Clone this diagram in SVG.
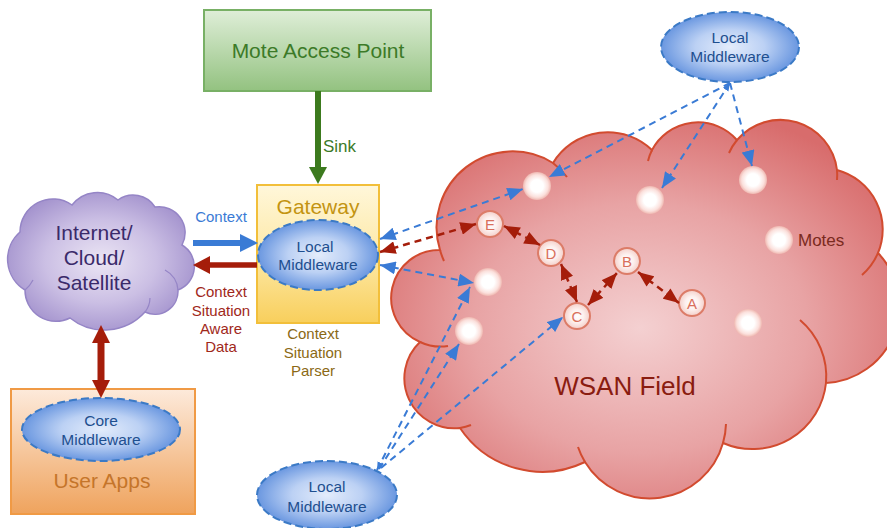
<svg xmlns="http://www.w3.org/2000/svg" width="887" height="528" viewBox="0 0 887 528">
<defs>
<style>
text{font-family:"Liberation Sans",Arial,sans-serif}
.mid{text-anchor:middle}
.lm{fill:url(#ellG);stroke:#3b7ac6;stroke-width:2;stroke-dasharray:8 4}
.lmt{font-size:15.5px;fill:#1e4f8f}
.bd{fill:none;stroke:#3a7bd5;stroke-width:2;stroke-dasharray:7 5}
.rd{fill:none;stroke:#a51d0a;stroke-width:2.5;stroke-dasharray:7 5}
.mote{fill:url(#moteG)}
.nd{fill:url(#ndG);stroke:#dc7c68;stroke-width:2}
.ndt{font-size:15px;fill:#d9705c;text-anchor:middle}
.inner{fill:none;stroke:#d24b2f;stroke-width:2}
.pinner{fill:none;stroke:#9585c6;stroke-width:1.2}
</style>
<radialGradient id="ellG" cx="0.5" cy="0.5" r="0.5"><stop offset="0" stop-color="#e3ecfb"/><stop offset="0.5" stop-color="#bcd1f4"/><stop offset="1" stop-color="#6a97e0"/></radialGradient>
<radialGradient id="moteG" cx="0.5" cy="0.5" r="0.5"><stop offset="0" stop-color="#ffffff"/><stop offset="0.45" stop-color="#ffffff"/><stop offset="0.8" stop-color="#fbe0dc"/><stop offset="1" stop-color="#efb8b1"/></radialGradient>
<radialGradient id="ndG" cx="0.5" cy="0.5" r="0.5"><stop offset="0" stop-color="#ffffff"/><stop offset="0.5" stop-color="#fdf1ef"/><stop offset="1" stop-color="#f4cfc9"/></radialGradient>
<radialGradient id="wsanG" cx="0.49" cy="0.55" r="0.6"><stop offset="0" stop-color="#f4d0d1"/><stop offset="0.55" stop-color="#e8a3a4"/><stop offset="1" stop-color="#d86c6c"/></radialGradient>
<radialGradient id="purpG" cx="0.5" cy="0.5" r="0.6"><stop offset="0" stop-color="#ebe5f4"/><stop offset="0.5" stop-color="#cbbfe4"/><stop offset="1" stop-color="#9a88c8"/></radialGradient>
<linearGradient id="greenG" x1="0" y1="0" x2="0" y2="1"><stop offset="0" stop-color="#dfeed8"/><stop offset="1" stop-color="#93c280"/></linearGradient>
<linearGradient id="goldG" x1="0" y1="0" x2="0" y2="1"><stop offset="0" stop-color="#fff7da"/><stop offset="0.5" stop-color="#fde9a8"/><stop offset="1" stop-color="#f8cf5c"/></linearGradient>
<linearGradient id="orgG" x1="0" y1="0" x2="0" y2="1"><stop offset="0" stop-color="#fdeadb"/><stop offset="1" stop-color="#efa35d"/></linearGradient>
<marker id="hB" viewBox="0 0 12 10" refX="12" refY="5" markerWidth="16" markerHeight="13" markerUnits="userSpaceOnUse" orient="auto-start-reverse"><path d="M0,0 L12,5 L0,10 z" fill="#3a7bd5"/></marker>
<marker id="hBs" viewBox="0 0 12 10" refX="12" refY="5" markerWidth="8" markerHeight="7" markerUnits="userSpaceOnUse" orient="auto-start-reverse"><path d="M0,0 L12,5 L0,10 z" fill="#3a7bd5"/></marker>
<marker id="hR" viewBox="0 0 12 10" refX="12" refY="5" markerWidth="16" markerHeight="13" markerUnits="userSpaceOnUse" orient="auto-start-reverse"><path d="M0,0 L12,5 L0,10 z" fill="#a51d0a"/></marker>
</defs>

<g id="wsan-field">
<path d="M440 250 A76 76 0 0 1 553 163 A64 64 0 0 1 652 150 A52 52 0 0 1 737 140 A57 57 0 0 1 837 170 A61.5 61.5 0 0 1 878 253 A77 77 0 0 1 826 383 A74 74 0 0 1 723 443 A76 76 0 0 1 585 462 A99 99 0 0 1 460 428 A50 50 0 0 1 420 342 A48 48 0 0 1 440 250 Z" fill="url(#wsanG)" stroke="#d24b2f" stroke-width="2"/>
<path class="inner" d="M440 250 A76 76 0 0 0 444 261"/>
<path class="inner" d="M553 163 A76 76 0 0 1 567 177"/>
<path class="inner" d="M652 150 A52 52 0 0 0 648 161"/>
<path class="inner" d="M737 140 A57 57 0 0 0 729 153"/>
<path class="inner" d="M837 170 A57 57 0 0 1 837 180"/>
<path class="inner" d="M878 253 A61.5 61.5 0 0 1 862 275"/>
<path class="inner" d="M826 383 A74 74 0 0 0 800 320"/>
<path class="inner" d="M723 443 A76 76 0 0 0 726 424"/>
<path class="inner" d="M585 462 A76 76 0 0 1 578 447"/>
<path class="inner" d="M460 428 A50 50 0 0 0 471 425"/>
<path class="inner" d="M420 342 A48 48 0 0 0 448 346"/>
<text x="625" y="395" class="mid" font-size="26" fill="#8a1c10">WSAN Field</text>
<text x="798" y="246" font-size="17" fill="#7a2a20">Motes</text>
</g>

<g id="motes">
<circle class="mote" cx="537" cy="186" r="14"/>
<circle class="mote" cx="650" cy="200" r="14"/>
<circle class="mote" cx="753" cy="180" r="14"/>
<circle class="mote" cx="779" cy="240" r="14"/>
<circle class="mote" cx="488" cy="282" r="14"/>
<circle class="mote" cx="469" cy="331" r="14"/>
<circle class="mote" cx="748" cy="323" r="14"/>
</g>

<g id="node-E"><circle class="nd" cx="490" cy="224" r="13"/><text class="ndt" x="490" y="229.5">E</text></g>
<g id="node-D"><circle class="nd" cx="551" cy="253" r="13"/><text class="ndt" x="551" y="258.5">D</text></g>
<g id="node-C"><circle class="nd" cx="577" cy="316" r="13"/><text class="ndt" x="577" y="321.5">C</text></g>
<g id="node-B"><circle class="nd" cx="627" cy="261" r="13"/><text class="ndt" x="627" y="266.5">B</text></g>
<g id="node-A"><circle class="nd" cx="692" cy="303" r="13"/><text class="ndt" x="692" y="308.5">A</text></g>

<g id="internet-cloud">
<path d="M20 232 A33 33 0 0 1 72 205 A32 32 0 0 1 118 200 A26 26 0 0 1 155 207 A26 26 0 0 1 182 245 A25 25 0 0 1 178 290 A23 23 0 0 1 145 312 A55 55 0 0 1 70 318 A31 31 0 0 1 25 290 A36 36 0 0 1 20 232 Z" fill="url(#purpG)" stroke="#9585c6" stroke-width="1.5"/>
<path class="pinner" d="M145 312 A23 23 0 0 0 150 298"/>
<path class="pinner" d="M178 290 A25 25 0 0 0 165 270"/>
<path class="pinner" d="M25 290 A31 31 0 0 0 33 280"/>
<text class="mid" x="94" y="240" font-size="21" fill="#3a2a6a">Internet/</text>
<text class="mid" x="94" y="265" font-size="21" fill="#3a2a6a">Cloud/</text>
<text class="mid" x="94" y="290" font-size="21" fill="#3a2a6a">Satellite</text>
</g>

<g id="mote-access-point">
<rect x="204" y="10" width="227" height="81" fill="url(#greenG)" stroke="#78b065" stroke-width="2"/>
<text class="mid" x="318" y="58" font-size="21" fill="#3c7a28">Mote Access Point</text>
</g>

<g id="gateway">
<rect x="257" y="185" width="122" height="138" fill="url(#goldG)" stroke="#f2bf3a" stroke-width="2"/>
<text class="mid" x="318" y="214" font-size="21" fill="#c39412">Gateway</text>
<text class="mid" x="313" y="339" font-size="15" fill="#8b6914">Context</text>
<text class="mid" x="313" y="358" font-size="15" fill="#8b6914">Situation</text>
<text class="mid" x="313" y="376" font-size="15" fill="#8b6914">Parser</text>
</g>

<g id="gateway-local-middleware">
<ellipse class="lm" cx="318" cy="255" rx="60" ry="35"/>
<text class="mid lmt" x="315" y="252">Local</text>
<text class="mid lmt" x="318" y="270">Middleware</text>
</g>

<g id="user-apps">
<rect x="11" y="389" width="184" height="125" fill="url(#orgG)" stroke="#f09a45" stroke-width="2"/>
<text class="mid" x="102" y="488" font-size="21" fill="#c5752a">User Apps</text>
</g>

<g id="core-middleware">
<ellipse class="lm" cx="101" cy="429.5" rx="79" ry="31.5"/>
<text class="mid lmt" x="101" y="426">Core</text>
<text class="mid lmt" x="101" y="445">Middleware</text>
</g>

<g id="top-local-middleware">
<ellipse class="lm" cx="730" cy="47" rx="69" ry="35"/>
<text class="mid lmt" x="730" y="43">Local</text>
<text class="mid lmt" x="730" y="62">Middleware</text>
</g>

<g id="bottom-local-middleware">
<ellipse class="lm" cx="327" cy="495" rx="70" ry="34"/>
<text class="mid lmt" x="327" y="492">Local</text>
<text class="mid lmt" x="327" y="512">Middleware</text>
</g>

<g id="connectors">
<line x1="318" y1="91" x2="318" y2="168" stroke="#3c7a1e" stroke-width="6"/>
<polygon points="309,167 318,184 327,167" fill="#3c7a1e"/>
<text x="323" y="152" font-size="17" fill="#3c7a28">Sink</text>
<line x1="193" y1="243" x2="241" y2="243" stroke="#3a7bd5" stroke-width="6"/>
<polygon points="240,234 258,243 240,252" fill="#3a7bd5"/>
<text class="mid" x="221" y="222" font-size="15" fill="#3a7bd5">Context</text>
<line x1="257" y1="265" x2="209" y2="265" stroke="#a51d0a" stroke-width="5.5"/>
<polygon points="210,256 193,265 210,274" fill="#a51d0a"/>
<text class="mid" x="221" y="297" font-size="15" fill="#a0281a">Context</text>
<text class="mid" x="221" y="315.5" font-size="15" fill="#a0281a">Situation</text>
<text class="mid" x="221" y="333.5" font-size="15" fill="#a0281a">Aware</text>
<text class="mid" x="221" y="352" font-size="15" fill="#a0281a">Data</text>
<line x1="101" y1="342" x2="101" y2="381" stroke="#a51d0a" stroke-width="7"/>
<polygon points="92,343 101,325 110,343" fill="#a51d0a"/>
<polygon points="92,380 101,398 110,380" fill="#a51d0a"/>
<line class="bd" x1="730" y1="83" x2="752" y2="166" marker-end="url(#hB)"/>
<line class="bd" x1="730" y1="83" x2="662" y2="188" marker-start="url(#hBs)" marker-end="url(#hB)"/>
<line class="bd" x1="730" y1="83" x2="549" y2="177" marker-end="url(#hB)"/>
<line class="bd" x1="380" y1="239" x2="523" y2="189" marker-start="url(#hB)" marker-end="url(#hB)"/>
<line class="rd" x1="380" y1="252" x2="476" y2="224" marker-start="url(#hR)" marker-end="url(#hR)"/>
<line class="bd" x1="380" y1="265" x2="474" y2="283" marker-start="url(#hB)" marker-end="url(#hB)"/>
<line class="bd" x1="377" y1="470" x2="470" y2="287" marker-start="url(#hBs)" marker-end="url(#hB)"/>
<line class="bd" x1="379" y1="469" x2="459" y2="344" marker-end="url(#hB)"/>
<line class="bd" x1="381" y1="468" x2="563" y2="317" marker-end="url(#hB)"/>
<line class="rd" x1="504" y1="226" x2="540" y2="245" marker-start="url(#hR)" marker-end="url(#hR)"/>
<line class="rd" x1="561" y1="264" x2="577" y2="302" marker-start="url(#hR)" marker-end="url(#hR)"/>
<line class="rd" x1="588" y1="305" x2="617" y2="273" marker-start="url(#hR)" marker-end="url(#hR)"/>
<line class="rd" x1="638" y1="272" x2="679" y2="303" marker-start="url(#hR)" marker-end="url(#hR)"/>
</g>
</svg>
